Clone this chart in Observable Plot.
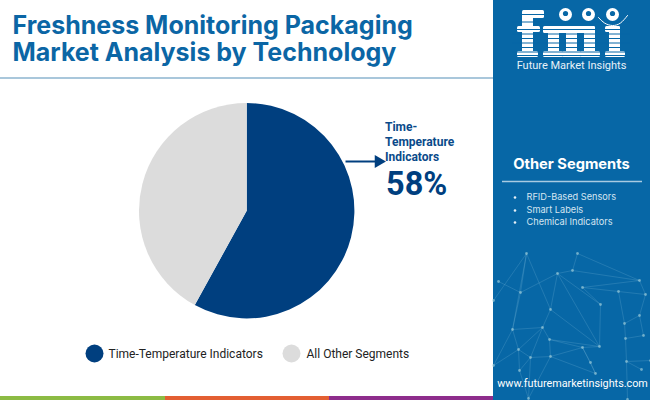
<!DOCTYPE html>
<html>
<head>
<meta charset="utf-8">
<script src="https://cdn.jsdelivr.net/npm/d3@7"></script>
<script src="https://cdn.jsdelivr.net/npm/@observablehq/plot@0.6"></script>
<style>html,body{margin:0;padding:0;background:#fff;width:650px;height:400px;overflow:hidden}svg{display:block}</style>
</head>
<body>
<div id="chart"></div>
<script>
// Chart data
const segments = ["Time-Temperature Indicators", "All Other Segments"];
const shares = [58, 42];
const segmentColors = ["#003f7f", "#dcdcdc"];
const titleLines = ["Freshness Monitoring Packaging", "Market Analysis by Technology"];
const calloutLines = ["Time-", "Temperature", "Indicators"];
const calloutValue = "58%";
const otherHeading = "Other Segments";
const otherSegments = ["RFID-Based Sensors", "Smart Labels", "Chemical Indicators"];
const brandName = "Future Market Insights";
const website = "www.futuremarketinsights.com";

// Layout of the page furniture
const pie = {cx: 246.7, cy: 210.7, r: 107.7};
const panelBlue = "#0767a6";
const titleBlue = "#0b66a5";
const strips = [
  {x1: 0, x2: 165, fill: "#8cbb44"},
  {x1: 165, x2: 329, fill: "#e35f32"},
  {x1: 329, x2: 493, fill: "#8e2d8c"}
];
const legendItems = [
  {dot: 94, label: 108, i: 0},
  {dot: 291, label: 306, i: 1}
];
const bulletRows = [197, 210, 222];

// Logo pieces: striped letter blocks, globes and the arc under them
const logoBars = [
  // f
  {x1: 522, x2: 533, y1: 10, y2: 57}, {x1: 524, x2: 544, y1: 10, y2: 18},
  {x1: 517, x2: 540, y1: 26, y2: 32}, {x1: 517, x2: 538, y1: 51, y2: 57},
  // m
  {x1: 543, x2: 595, y1: 26, y2: 33}, {x1: 548, x2: 559, y1: 26, y2: 57},
  {x1: 566, x2: 577, y1: 26, y2: 57}, {x1: 584, x2: 595, y1: 26, y2: 57},
  {x1: 543, x2: 563, y1: 51, y2: 57}, {x1: 562, x2: 581, y1: 51, y2: 57},
  {x1: 580, x2: 600, y1: 51, y2: 57},
  // i
  {x1: 609, x2: 620, y1: 26, y2: 57}, {x1: 605, x2: 620, y1: 26, y2: 32},
  {x1: 605, x2: 625, y1: 51, y2: 57}
];
const stripeRows = [14, 21.5, 29, 33.5, 38, 42.5, 47, 51.5, 55];
const globes = [565, 588, 612];
const smile = [[598,17],[604,22.5],[612,25],[620,22.5],[627,15]];

// Decorative network in the panel
const nodes = {A:[526,253],B:[577,253],C:[557,273],D:[572,270],E:[639,280],F:[520,292],G:[498,281],H:[582,287],I:[618,291],J:[645,294],K:[600,304],L:[550,309],M:[639,315],N:[624,323],O:[512,329],P:[542,327],Q:[643,335],R:[625,338],S:[549,339],T:[599,346],U:[582,347],V:[518,349],W:[530,357],X:[550,356],Y:[590,362],Z:[626,361],a:[519,370],b:[595,373],c:[641,369],d:[528,398],e:[627,399],f:[493,300],g:[493,365],h:[650,360]};
const edges = ["AF","AL","AO","FC","FG","CD","CL","CT","DB","BE","DE","HE","HK","HI","IJ","IN","EJ","NM","NR","MQ","RZ","Ze","Zc","Zh","LP","PO","PS","PV","OF","OV","SX","ST","LT","CK","KT","XU","US","UY","Yb","Xb","XW","VW","Va","WP","Wa","ad","Wd","fA","gV","gO","Xd","QR","MJ","UT","Ub"];
const edgeRows = edges.map(s => ({a: nodes[s[0]], b: nodes[s[1]]}));
const nodeRows = Object.values(nodes);

const fonts = {title: "Inter", body: "Roboto"};

const pieMark = (index, scales) => {
  const g = d3.create("svg:g")
    .attr("transform", `translate(${scales.x(pie.cx)},${scales.y(pie.cy)})`);
  const arcs = d3.pie().sort(null)(shares);
  const arc = d3.arc().innerRadius(0).outerRadius(scales.x(pie.r) - scales.x(0));
  g.selectAll("path").data(arcs).join("path")
    .attr("d", arc)
    .attr("fill", (d, i) => scales.color(segments[i]));
  return g.node();
};

const chart = Plot.plot({
  width: 650, height: 400,
  marginTop: 0, marginRight: 0, marginBottom: 0, marginLeft: 0,
  x: {domain: [0, 650], range: [0, 650], axis: null},
  y: {domain: [0, 400], range: [0, 400], axis: null},
  color: {domain: segments, range: segmentColors},
  style: {background: "#fff", overflow: "hidden"},
  marks: [
    // side panel and furniture
    Plot.rect([0], {x1: 493, x2: 650, y1: 0, y2: 400, fill: panelBlue}),
    Plot.link(edgeRows, {x1: d => d.a[0], y1: d => d.a[1], x2: d => d.b[0], y2: d => d.b[1], stroke: "#9fd0e8", strokeOpacity: 0.3, strokeWidth: 0.6}),
    Plot.dot(nodeRows, {x: d => d[0], y: d => d[1], r: 1.4, fill: "#a9d3dc", fillOpacity: 0.6}),
    Plot.rect(strips, {x1: "x1", x2: "x2", y1: 396, y2: 400, fill: "fill"}),
    Plot.ruleY([77.5], {x1: 0, x2: 493, stroke: "#8db4cf", strokeWidth: 1.6}),

    // title
    Plot.text([titleLines.join("\n")], {x: 12, y: 38, text: d => d, textAnchor: "start", lineHeight: 1.08, fill: titleBlue, fontFamily: fonts.title, fontWeight: 700, fontSize: 25}),

    // pie
    pieMark,

    // callout
    Plot.link([0], {x1: 345, x2: 376, y1: 161, y2: 161, stroke: "#003f7f", strokeWidth: 2}),
    Plot.dot([0], {x: 378, y: 161, symbol: "triangle", r: 4.8, rotate: 90, fill: "#003f7f", stroke: "none"}),
    Plot.text(calloutLines, {x: 384.5, y: (d, i) => 126.5 + i * 15, text: d => d, textAnchor: "start", fill: "#0a4a8a", fontFamily: fonts.body, fontWeight: 700, fontSize: 12}),
    Plot.text([calloutValue], {x: 385.5, y: 184, text: d => d, textAnchor: "start", fill: "#003f7f", fontFamily: fonts.body, fontWeight: 700, fontSize: 32.5}),

    // legend
    Plot.dot(legendItems, {x: "dot", y: 353, r: 9, fill: d => segments[d.i]}),
    Plot.text(legendItems, {x: "label", y: 353.5, text: d => segments[d.i], textAnchor: "start", fill: "#222", fontFamily: fonts.body, fontSize: 12}),

    // other segments
    Plot.text([otherHeading], {x: 571, y: 164, text: d => d, fill: "#fff", fontFamily: fonts.title, fontWeight: 700, fontSize: 14.7}),
    Plot.ruleY([181], {x1: 502, x2: 642, stroke: "#a8cbe2", strokeWidth: 1.5}),
    Plot.dot(bulletRows, {x: 514.5, y: d => d, r: 1.3, fill: "#e6f0f7"}),
    Plot.text(otherSegments, {x: 526, y: (d, i) => bulletRows[i], text: d => d, textAnchor: "start", fill: "#d5e5f1", fontFamily: fonts.title, fontSize: 9.2}),

    // logo
    Plot.rect(logoBars, {x1: "x1", x2: "x2", y1: "y1", y2: "y2", fill: "#fff", rx: 1.5}),
    Plot.ruleY(stripeRows, {x1: 512, x2: 630, stroke: panelBlue, strokeWidth: 1}),
    Plot.dot(globes, {x: d => d, y: 14, r: 6.5, fill: "#fff"}),
    Plot.dot(globes, {x: d => d, y: 13, r: 2.6, fill: panelBlue}),
    Plot.line(smile, {x: d => d[0], y: d => d[1], curve: "natural", stroke: "#fff", strokeWidth: 1}),
    Plot.text([brandName], {x: 571, y: 65, text: d => d, fill: "#e8f1f8", fontFamily: fonts.body, fontSize: 11}),

    // website
    Plot.text([website], {x: 572, y: 383, text: d => d, fill: "#fff", fontFamily: fonts.body, fontSize: 10.8})
  ]
});
document.getElementById("chart").append(chart);
</script>
</body>
</html>
